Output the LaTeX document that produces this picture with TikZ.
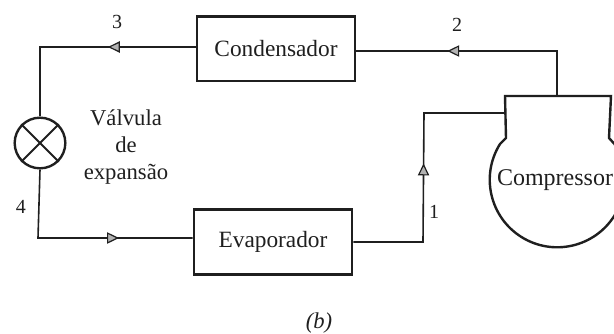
\documentclass[tikz,border=0pt]{standalone}
\usepackage{xcolor}
\usepackage{fontspec}
\setmainfont{Liberation Serif}
\usetikzlibrary{arrows.meta, decorations.markings}

\definecolor{inkline}{gray}{0.12}

\tikzset{
  line/.style={draw=inkline, line width=1.2pt},
  unitbox/.style={draw=inkline, line width=2pt, minimum width=118.5pt, minimum height=48.5pt, inner sep=0pt, text=inkline, font=\fontsize{17.5}{18}\selectfont},
  tag/.style={inner sep=0pt, text=inkline, font=\fontsize{15}{18}\selectfont},
  flowtip/.style={postaction={decorate}, decoration={markings, mark=at position #1 with {\arrow[draw=inkline, line width=.9pt]{Triangle[length=9pt, width=8.5pt, fill=gray!60]}}}},
}

\begin{document}
\begin{tikzpicture}[x=.75pt, y=-.75pt]
\clip (0,0) rectangle (614,333);

% units
\node[unitbox] (condensador) at (276,48.5) {Condensador};
\node[unitbox] (evaporador) at (273,242) {Evaporador};
\node[draw=inkline, line width=1.8pt, circle, minimum size=38pt, inner sep=0pt] (valvula) at (40,143) {};
\draw[line width=1.4pt, draw=inkline] (valvula.north west) -- (valvula.south east);
\draw[line width=1.4pt, draw=inkline] (valvula.north east) -- (valvula.south west);

% compressor shell
\coordinate (shelltop) at (557,96);
\coordinate (shellin) at (505,113);
\draw[draw=inkline, line width=1.8pt] (500,144) arc[start angle=212, end angle=-32, radius=67.5] -- (609,138) -- (611,96) -- (505,96) -- (506,138) -- cycle;
\node[tag, font=\fontsize{18}{18}\selectfont] (compressor) at (555,180) {Compressor};

% refrigerant circuit
\draw[line, flowtip=.63] (shelltop) -- (557,51) -- (condensador.east |- 0,51);
\draw[line, flowtip=.39] (condensador.west |- 0,47) -- (40,47) -- (valvula.north);
\draw[line, flowtip=.67] (valvula.south) -- (38,238) -- (evaporador.west |- 0,238);
\draw[line, flowtip=.53] (evaporador.east) -- (423,242) -- (424,113) -- (shellin);

% labels
\node[tag] (lblt) at (117,22) {3};
\node[tag] (lbld) at (457,25) {2};
\node[tag] (lblq) at (21,207) {4};
\node[tag] (lblu) at (434,212) {1};
\node[tag, align=center, font=\fontsize{17}{20.6}\selectfont] (lblvalvula) at (126,147) {Válvula\\de\\expansão};
\node[tag, font=\fontsize{17}{18}\selectfont] (lblb) at (319,323) {\textit{(b)}};
\end{tikzpicture}
\end{document}
